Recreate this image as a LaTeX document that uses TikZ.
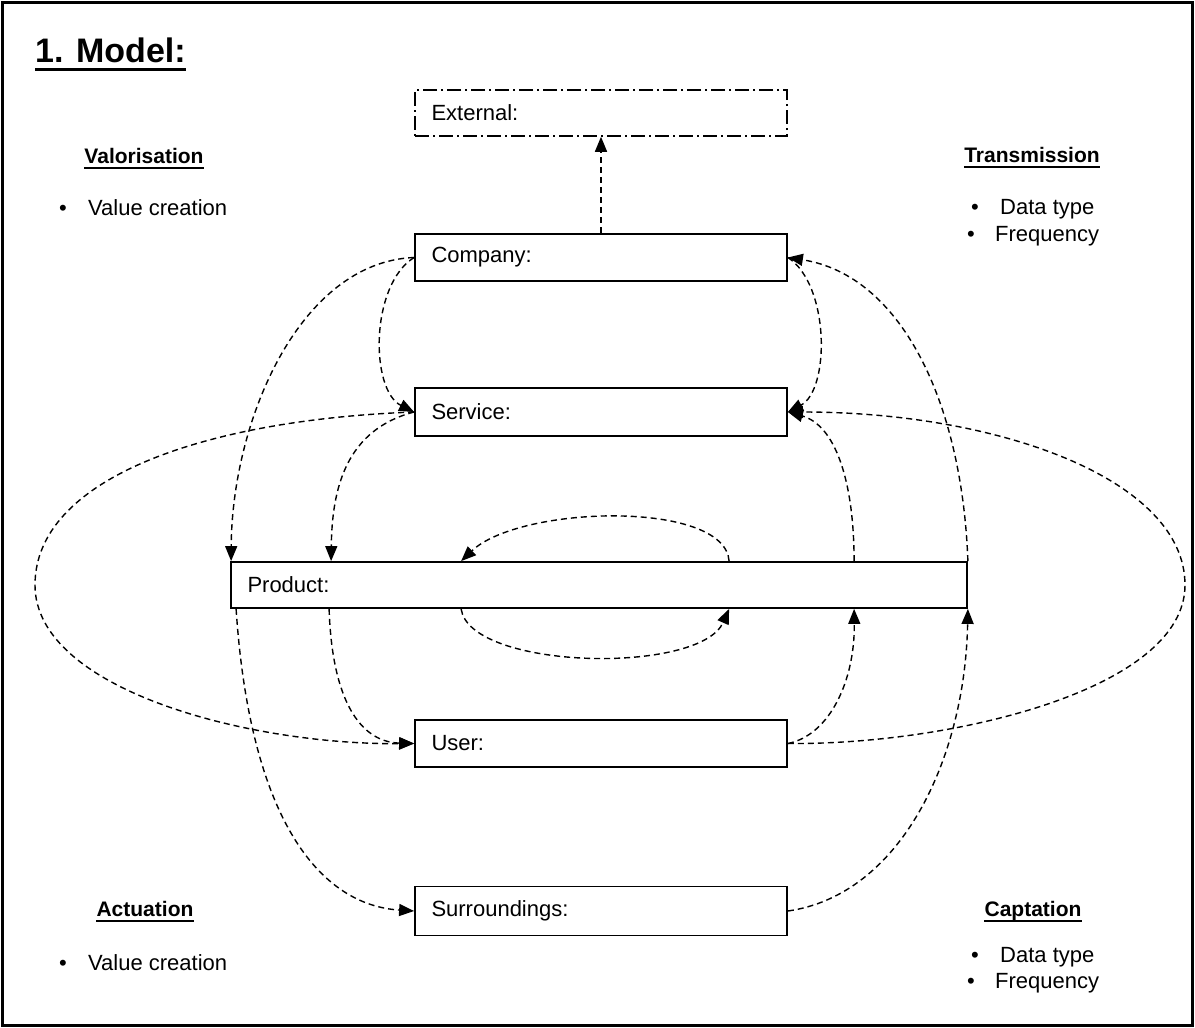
\documentclass[tikz,border=0pt]{standalone}
\usepackage{fontspec}
\setmainfont{Liberation Sans}
\usetikzlibrary{arrows.meta}
\begin{document}
\begin{tikzpicture}[x=1pt,y=-1pt,
  txt/.style={inner sep=0pt, font=\fontsize{22}{26}\selectfont},
  head/.style={inner sep=0pt, anchor=base, font=\fontsize{21}{25}\selectfont\bfseries},
  box/.style={draw, line width=1.8pt, minimum width=372pt, minimum height=47pt,
    text width=339pt, align=left, inner xsep=16pt, inner ysep=0pt,
    font=\fontsize{22}{26}\selectfont},
  extbox/.style={box, line width=1.5pt, dash pattern=on 14pt off 4pt on 2pt off 4pt},
  conn/.style={line width=1.4pt, dash pattern=on 6pt off 4pt,
    -{Triangle[length=15pt,width=12pt]}},
  uline/.style={line width=2pt}
]
\useasboundingbox (0,0) rectangle (1195,1028);
\draw[line width=3pt] (2.5,2.5) rectangle (1192.5,1025.5);

% title
\node[inner sep=0pt, anchor=base west, font=\fontsize{34}{40}\selectfont\bfseries] (title) at (35,62) {1. Model:};
\draw[line width=3pt] ([yshift=-7pt]title.base west) -- ([yshift=-7pt]title.base east);

% corner texts
\node[head] (valh) at (144,163) {Valorisation};
\draw[uline] ([yshift=-5pt]valh.base west) -- ([yshift=-5pt]valh.base east);
\node[txt, anchor=base] (valb) at (63,215) {•};
\node[txt, anchor=base west] (valt) at (88,215) {Value creation};

\node[head] (trah) at (1032,162) {Transmission};
\draw[uline] ([yshift=-5pt]trah.base west) -- ([yshift=-5pt]trah.base east);
\node[txt, anchor=base] (trab1) at (975,214) {•};
\node[txt, anchor=base west] (trat1) at (1000,214) {Data type};
\node[txt, anchor=base] (trab2) at (971,241) {•};
\node[txt, anchor=base west] (trat2) at (995,241) {Frequency};

\node[head] (acth) at (145,916) {Actuation};
\draw[uline] ([yshift=-5pt]acth.base west) -- ([yshift=-5pt]acth.base east);
\node[txt, anchor=base] (actb) at (63,970) {•};
\node[txt, anchor=base west] (actt) at (88,970) {Value creation};

\node[head] (caph) at (1033,916) {Captation};
\draw[uline] ([yshift=-5pt]caph.base west) -- ([yshift=-5pt]caph.base east);
\node[txt, anchor=base] (capb1) at (975,962) {•};
\node[txt, anchor=base west] (capt1) at (1000,962) {Data type};
\node[txt, anchor=base] (capb2) at (971,988) {•};
\node[txt, anchor=base west] (capt2) at (995,988) {Frequency};

% boxes
\node[extbox, minimum height=46pt] (external) at (601,113) {External:};
\node[box] (company) at (601,257.5) {Company:};
\node[box, minimum height=48pt] (service) at (601,412) {Service:};
\node[box, minimum width=736pt, text width=703pt, minimum height=46pt] (product) at (599,585) {Product:};
\node[box] (user) at (601,743.5) {User:};
\node[box, minimum height=49pt] (surroundings) at (601,911) {Surroundings:};

\coordinate (lft) at (35,585);
\coordinate (rgt) at (1185,585);

% connectors
\draw[conn] (company.north) -- (external.south);
\draw[conn] (company.west) .. controls (300,262) and (232,420) .. ([xshift=1pt]product.north west);
\draw[conn] (company.west) .. controls (370,285) and (370,390) .. (service.west);
\draw[conn] (service.west) .. controls (345,430) and (332,490) .. ([xshift=101pt]product.north west);
\draw[conn] (service.west) .. controls (200,420) and (35,480) .. (lft) .. controls (35,690) and (250,745) .. (user.west);
\draw[conn] (user.east) .. controls (950,745) and (1185,690) .. (rgt) .. controls (1185,480) and (1000,412) .. (service.east);
\draw[conn] (product.north east) .. controls (962,400) and (900,275) .. (company.east);
\draw[conn] ([xshift=624pt]product.north west) .. controls (854,480) and (835,425) .. (service.east);
\draw[conn] (company.east) .. controls (830,285) and (830,390) .. (service.east);
\draw[conn] ([xshift=499pt]product.north west) .. controls (725,500) and (520,505) .. ([xshift=231pt]product.north west);
\draw[conn] ([xshift=231pt]product.south west) .. controls (470,670) and (700,675) .. ([xshift=499pt]product.south west);
\draw[conn] ([xshift=99pt]product.south west) .. controls (332,700) and (360,742) .. (user.west);
\draw[conn] ([xshift=6pt]product.south west) .. controls (250,820) and (320,905) .. (surroundings.west);
\draw[conn] (user.east) .. controls (830,735) and (855,680) .. ([xshift=624pt]product.south west);
\draw[conn] (surroundings.east) .. controls (900,895) and (965,760) .. (product.south east);
\end{tikzpicture}
\end{document}
